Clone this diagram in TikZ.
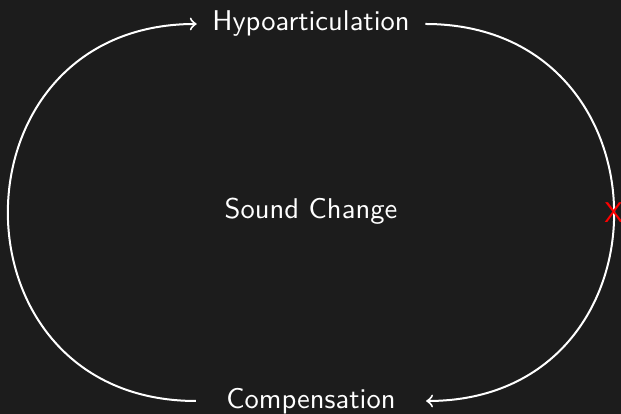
\documentclass[tikz,border=0pt]{standalone}
\usepackage{tikz}
\definecolor{bgdark}{RGB}{28,28,28}
\tikzset{
  stage/.style={font=\sffamily, text=white, inner sep=0.185cm},
  wideStage/.style={stage, inner xsep=0.369cm},
  loop/.style={line width=0.7pt, draw=white, out=#1, in=#1, looseness=1.7},
  breakmark/.style={font=\sffamily, text=red, inner sep=0pt},
}

\begin{document}
\begin{tikzpicture}
\fill[bgdark] (0,0) rectangle (7.638,5.092);
\useasboundingbox (0,0) rectangle (7.638,5.092);
\node[stage] (hypo) at (3.825,4.797) {Hypoarticulation};
\node[wideStage] (comp) at (3.825,0.160) {Compensation};
\node[stage] (change) at (3.825,2.490) {Sound Change};
\draw[loop=180, ->] (comp.west) to (hypo.west);
\draw[loop=0, ->] (hypo.east) to node[breakmark] (cut) {X} (comp.east);
\end{tikzpicture}
\end{document}
